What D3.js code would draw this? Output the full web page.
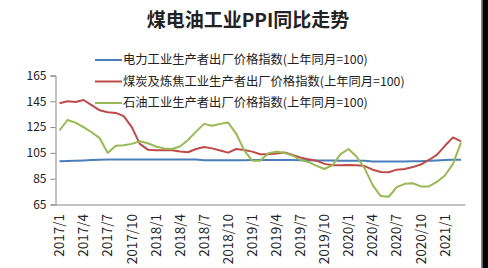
<!DOCTYPE html>
<html>
<head>
<meta charset="utf-8">
<script src="https://cdn.jsdelivr.net/npm/d3@7"></script>
<style>
    body { margin: 0; background: #fff; }
    svg { display: block; }
    text { font-family: "Noto Sans CJK SC", "Liberation Sans", sans-serif; }
</style>
</head>
<body>
<svg id="chart"></svg>
<script>
// months 2017/1 .. 2021/3
let months = [];
for (let y = 2017; y <= 2021; y++) {
    for (let m = 1; m <= 12; m++) {
        if (y === 2021 && m > 3) break;
        months.push(y + "/" + m);
    }
}

let seriesNames = [
    "电力工业生产者出厂价格指数(上年同月=100)",
    "煤炭及炼焦工业生产者出厂价格指数(上年同月=100)",
    "石油工业生产者出厂价格指数(上年同月=100)"
];

let power = [98.5, 98.7, 98.9, 99.2, 99.4, 99.6, 99.8, 99.8, 99.9, 99.9, 99.8, 99.8,
    99.8, 99.8, 99.8, 99.8, 99.8, 99.8, 99.3, 99.3, 99.3, 99.3, 99.3, 99.3,
    99.4, 99.4, 99.4, 99.4, 99.4, 99.4, 99.3, 99.3, 99.2, 99.2, 99.1, 99.0,
    99.0, 99.0, 98.9, 98.4, 98.3, 98.3, 98.4, 98.4, 98.5, 98.6, 99.0, 99.2,
    99.5, 99.6, 99.7];

let coal = [143.5, 145, 144.5, 146, 142, 138, 136.5, 136, 133.5, 125, 112, 107.5,
    107, 107, 107, 106, 105.5, 108, 109.5, 108.5, 106.8, 105.2, 108, 107.2,
    106, 104, 104, 104.5, 105.3, 103.5, 101.5, 100, 99, 96.5, 95.5, 95.4,
    95.6, 95.5, 94.8, 92, 90.2, 90, 92, 92.5, 94, 96, 99.5, 103.5,
    110.5, 117, 114];

let oil = [122.5, 130.5, 128.5, 125, 121, 116.5, 105, 110.5, 111, 112, 114, 112.5,
    110, 108.5, 108, 110, 115, 121.5, 127.5, 126, 127.5, 128.5, 120, 107,
    99, 99, 104.7, 106, 105, 103, 99.5, 98, 95, 92.5, 95.5, 104,
    108, 102, 93, 80, 71.5, 71, 78.5, 81, 81.5, 79, 79, 82.5,
    87.5, 96.5, 113];

let yTicks = [65, 85, 105, 125, 145, 165];
let colors = ["#4a7ebb", "#be4b48", "#98b954"];

let width = 488, height = 268;
let svg = d3.select("#chart").attr("width", width).attr("height", height);

svg.append("rect").attr("width", width).attr("height", height).attr("fill", "#fff");

let x = d3.scaleBand().domain(months).range([55.5, 465]);
let y = d3.scaleLinear().domain([65, 165]).range([204.5, 75.5]);

// title
svg.append("text")
    .attr("x", 248).attr("y", 27)
    .attr("text-anchor", "middle")
    .attr("font-size", 19).attr("font-weight", "bold")
    .attr("fill", "#222")
    .text("煤电油工业PPI同比走势");

// legend
let legendY = [60, 81.5, 103];
seriesNames.forEach((name, i) => {
    let g = svg.append("g").attr("transform", `translate(95,${legendY[i]})`);
    g.append("line").attr("x1", 0).attr("x2", 27).attr("y1", 0).attr("y2", 0)
        .attr("stroke", colors[i]).attr("stroke-width", 2);
    g.append("text").attr("x", 28).attr("y", 0).attr("dy", "0.36em")
        .attr("font-size", 12.3).attr("fill", "#222").text(name);
});

// y axis
let yAxis = d3.axisLeft(y).tickValues(yTicks).tickSize(5).tickPadding(4);
let gy = svg.append("g").attr("transform", "translate(55.5,0)").call(yAxis);
gy.select(".domain").attr("stroke", "#868686");
gy.selectAll(".tick line").attr("stroke", "#868686");
gy.selectAll(".tick text")
    .attr("font-family", "Liberation Sans, Arial, sans-serif")
    .attr("font-size", 12).attr("fill", "#222");

// x axis
let gx = svg.append("g").attr("transform", "translate(0,204.5)")
    .call(d3.axisBottom(x).tickValues(months.filter((d, i) => i % 3 === 0)).tickSize(0).tickFormat(""));
gx.select(".domain").attr("stroke", "#868686");

svg.append("g").selectAll("text")
    .data(months.filter((d, i) => i % 3 === 0))
    .join("text")
    .attr("transform", d => `translate(${x(d) + x.bandwidth() / 2},214) rotate(-90)`)
    .attr("text-anchor", "end")
    .attr("dy", "0.35em")
    .attr("font-family", "Liberation Sans, Arial, sans-serif")
    .attr("font-size", 13.5).attr("fill", "#222")
    .text(d => d);

// lines
let line = d3.line()
    .x((d, i) => x(months[i]) + x.bandwidth() / 2)
    .y(d => y(d));

[power, coal, oil].forEach((s, i) => {
    svg.append("path").datum(s)
        .attr("d", line)
        .attr("fill", "none")
        .attr("stroke", colors[i])
        .attr("stroke-width", 2)
        .attr("stroke-linejoin", "round");
});

// dark frame edge on the right
svg.append("rect").attr("x", 481).attr("y", 0).attr("width", 1.5).attr("height", height).attr("fill", "#888");
svg.append("rect").attr("x", 482.5).attr("y", 0).attr("width", 5.5).attr("height", height).attr("fill", "#050505");
</script>
</body>
</html>
